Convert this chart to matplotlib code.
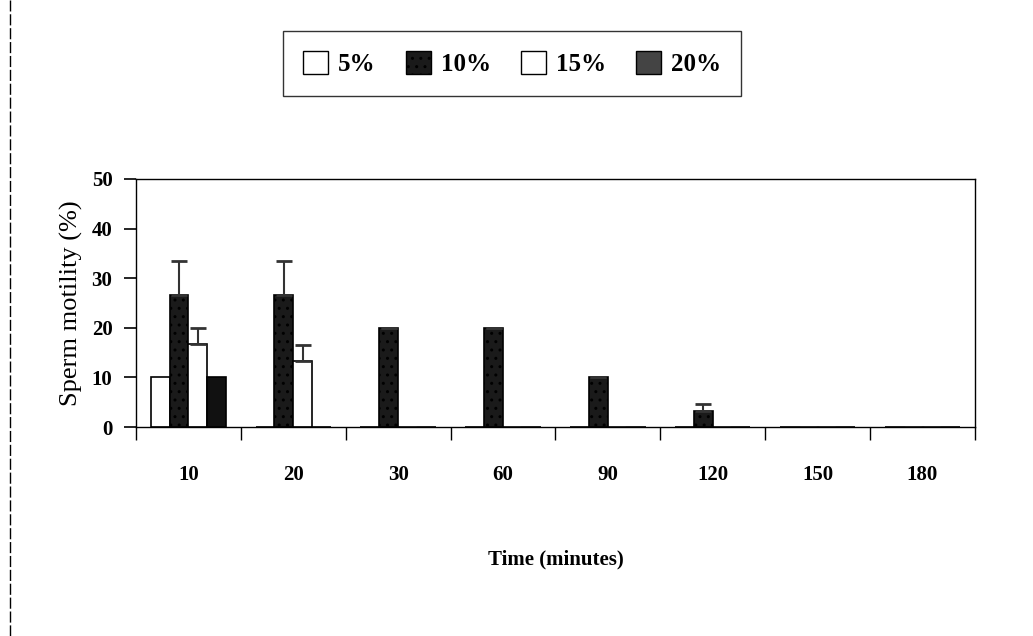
import matplotlib
matplotlib.use("Agg")
import matplotlib.pyplot as plt
import numpy as np
from matplotlib.patches import Patch

plt.rcParams['font.family'] = ['Liberation Serif', 'DejaVu Serif']
plt.rcParams['hatch.color'] = "#bbbbbb"

# data
times = ["10", "20", "30", "60", "90", "120", "150", "180"]
series = ["5%", "10%", "15%", "20%"]
val_5 = [10, 0, 0, 0, 0, 0, 0, 0]
val_10 = [26.7, 26.7, 20, 20, 10, 3.3, 0, 0]
val_15 = [16.7, 13.3, 0, 0, 0, 0, 0, 0]
val_20 = [10, 0, 0, 0, 0, 0, 0, 0]
err_10 = [6.7, 6.7, 0, 0, 0, 1.4, 0, 0]
err_15 = [3.3, 3.3, 0, 0, 0, 0, 0, 0]

fig = plt.figure(figsize=(10.33, 6.36), dpi=100)
ax = fig.add_axes([0.1317, 0.3286, 0.812, 0.39])

x = np.arange(len(times))
w = 0.18
offs = [-1.5 * w, -0.5 * w, 0.5 * w, 1.5 * w]
styles = [
    dict(color="white", edgecolor="black"),
    dict(color="#1a1a1a", edgecolor="black", hatch=".."),
    dict(color="white", edgecolor="black"),
    dict(color="#111111", edgecolor="black"),
]
vals = [val_5, val_10, val_15, val_20]
errs = [None, err_10, err_15, None]

for i in range(4):
    yerr = None
    if errs[i] is not None:
        yerr = [np.zeros(len(times)), errs[i]]
    ax.bar(x + offs[i], vals[i], w, linewidth=1.2, yerr=yerr,
           error_kw=dict(ecolor="#333333", elinewidth=1.5, capsize=6, capthick=2),
           **styles[i])

ax.set_xlim(-0.5, len(times) - 0.5)
ax.set_ylim(0, 50)
ax.set_yticks([0, 10, 20, 30, 40, 50])
ax.tick_params(axis="y", direction="out", length=9, width=1.2, pad=8,
               labelsize=15)
for t in ax.get_yticklabels():
    t.set_fontweight("bold")

ax.set_xticks(x)
ax.set_xticklabels(times, fontsize=15, fontweight="bold")
ax.tick_params(axis="x", which="major", length=0, pad=27)
ax.set_xticks(np.arange(-0.5, len(times)), minor=True)
ax.tick_params(axis="x", which="minor", direction="out", length=9, width=1)

for s in ax.spines.values():
    s.set_linewidth(1)

ax.set_ylabel("Sperm motility (%)", fontsize=19, labelpad=6)
ax.set_xlabel("Time (minutes)", fontsize=15, fontweight="bold", labelpad=47)

handles = [Patch(facecolor=c, edgecolor="black", hatch=h)
           for c, h in [("white", None), ("#1a1a1a", ".."), ("white", None), ("#444444", None)]]
fig.legend(handles, series, loc="center", bbox_to_anchor=(0.496, 0.9),
           ncol=4, frameon=True, fancybox=False, edgecolor="black",
           prop=dict(size=18, weight="bold"), handlelength=1.0,
           handleheight=1.0, columnspacing=1.2, handletextpad=0.4,
           borderpad=0.8)

# left border line of the figure
fig.add_artist(plt.Line2D([0.0097, 0.0097], [0, 1], color="black", lw=1,
                          ls=(0, (8, 2))))

fig.savefig("out.png", dpi=100)
